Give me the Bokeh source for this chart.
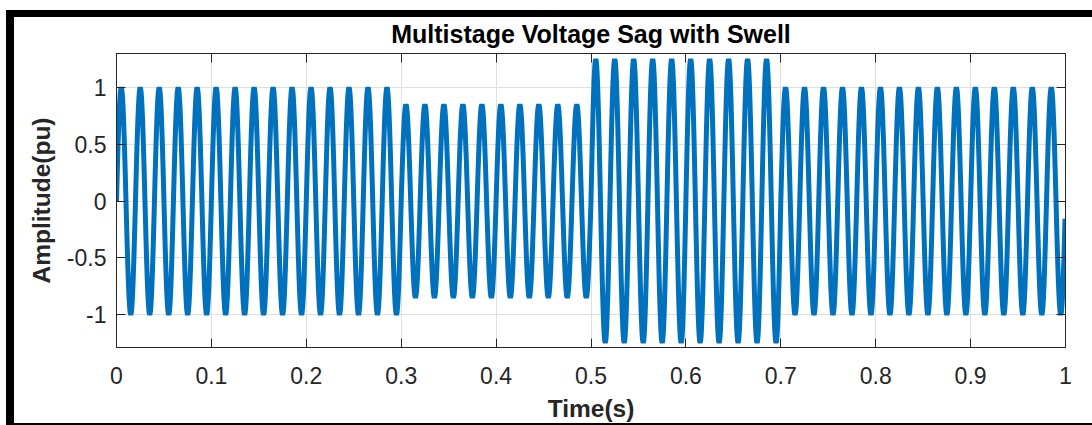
import numpy as np
from bokeh.plotting import figure
from bokeh.models import LinearAxis, FixedTicker, Range1d
from bokeh.embed import file_html
from bokeh.resources import INLINE

# ---- data -------------------------------------------------------------
stage_start = [0.0, 0.3, 0.5, 0.7]          # s
stage_end = [0.3, 0.5, 0.7, 1.0]            # s
stage_amplitude = [1.0, 0.85, 1.25, 1.0]    # pu (normal, sag, swell, normal)
frequency_hz = 50
sample_rate = 2000

x_ticks = [0, 0.1, 0.2, 0.3, 0.4, 0.5, 0.6, 0.7, 0.8, 0.9, 1]
x_tick_labels = ["0", "0.1", "0.2", "0.3", "0.4", "0.5", "0.6", "0.7", "0.8", "0.9", "1"]
y_ticks = [-1, -0.5, 0, 0.5, 1]
y_tick_labels = ["-1", "-0.5", "0", "0.5", "1"]

title_text = "Multistage Voltage Sag with Swell"
x_label = "Time(s)"
y_label = "Amplitude(pu)"

# waveform built from the stage table
t = np.arange(0, 1, 1 / sample_rate)
amp = np.select([(t >= s) & (t < e) for s, e in zip(stage_start, stage_end)], stage_amplitude)
v = amp * np.sin(2 * np.pi * frequency_hz * t)

# ---- style -------------------------------------------------------------
FONT = "Liberation Sans"
AX = "#262626"
GRID = "#dfdfdf"
BLUE = "#0072BD"

p = figure(width=1086, height=415, output_backend="svg", toolbar_location=None,
           x_range=Range1d(0, 1), y_range=Range1d(-1.29, 1.30),
           min_border_left=110, min_border_right=27, min_border_top=43, min_border_bottom=78)
# black frame of the screenshot (top and left bands drawn behind a transparent border area, bottom line)
p.styles = {"margin-left": "6px", "margin-top": "10px",
            "box-shadow": "inset 8px 7px 0 0 black",
            "border-bottom": "2px solid black"}
p.border_fill_color = None
p.background_fill_color = "white"

p.line(t, v, line_color=BLUE, line_width=5)

p.title.text = title_text
p.title.text_font = FONT
p.title.text_font_size = "25px"
p.title.text_font_style = "bold"
p.title.text_color = "#000000"
p.title.align = "center"
p.title.standoff = 11

p.outline_line_color = AX
p.outline_line_alpha = 1

xa = p.xaxis[0]
ya = p.yaxis[0]
xa.ticker = FixedTicker(ticks=x_ticks)
ya.ticker = FixedTicker(ticks=y_ticks)
xa.major_label_overrides = dict(zip(x_ticks, x_tick_labels))
ya.major_label_overrides = dict(zip(y_ticks, y_tick_labels))
xa.axis_label = x_label
ya.axis_label = y_label

for ax in (xa, ya):
    ax.axis_line_color = AX
    ax.major_tick_line_color = AX
    ax.major_tick_in = 9
    ax.major_tick_out = 0
    ax.minor_tick_line_color = None
    ax.major_label_text_font = FONT
    ax.major_label_text_font_size = "23px"
    ax.major_label_text_color = AX
    ax.axis_label_text_font = FONT
    ax.axis_label_text_font_size = "24.5px"
    ax.axis_label_text_font_style = "bold"
    ax.axis_label_text_color = AX

xa.major_label_standoff = 19
xa.axis_label_standoff = 8
ya.major_label_standoff = 10
ya.axis_label_standoff = 9

# box-style ticks on top and right (no labels)
top = LinearAxis(ticker=FixedTicker(ticks=x_ticks))
right = LinearAxis(ticker=FixedTicker(ticks=y_ticks))
for ax in (top, right):
    ax.axis_line_color = AX
    ax.major_tick_line_color = AX
    ax.major_tick_in = 9
    ax.major_tick_out = 0
    ax.minor_tick_line_color = None
    ax.major_label_text_font_size = "1px"
    ax.major_label_text_color = None
    ax.major_label_standoff = 0
p.add_layout(top, "above")
p.add_layout(right, "right")

p.xgrid.ticker = FixedTicker(ticks=x_ticks)
p.ygrid.ticker = FixedTicker(ticks=y_ticks)
for g in (p.xgrid, p.ygrid):
    g.grid_line_color = GRID
    g.grid_line_width = 1

open("out.html", "w").write(file_html(p, INLINE))
